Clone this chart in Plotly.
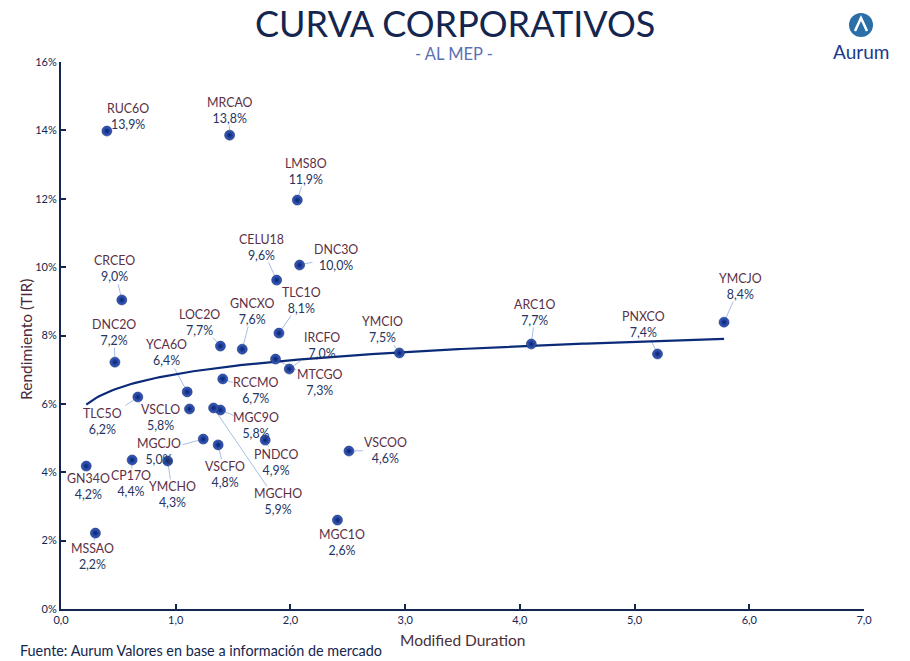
import numpy as np
import plotly.graph_objects as go

# ---- data ----
tickers = ["RUC6O", "MRCAO", "LMS8O", "CELU18", "DNC3O", "CRCEO", "TLC1O", "LOC2O",
           "GNCXO", "DNC2O", "YCA6O", "IRCFO", "MTCGO", "YMCIO", "ARC1O", "PNXCO",
           "YMCJO", "RCCMO", "TLC5O", "VSCLO", "MGC9O", "MGCJO", "VSCFO", "PNDCO",
           "VSCOO", "MGCHO", "GN34O", "CP17O", "YMCHO", "MGC1O", "MSSAO"]
duration = [0.40, 1.47, 2.06, 1.88, 2.08, 0.53, 1.90, 1.39,
            1.58, 0.47, 1.10, 1.99, 1.87, 2.95, 4.10, 5.20,
            5.78, 1.41, 0.67, 1.12, 1.39, 1.24, 1.37, 1.78,
            2.51, 1.33, 0.22, 0.62, 0.93, 2.41, 0.30]
tir = [13.98, 13.86, 11.96, 9.62, 10.06, 9.04, 8.07, 7.69,
       7.60, 7.22, 6.35, 7.02, 7.31, 7.49, 7.75, 7.46,
       8.39, 6.73, 6.20, 5.85, 5.82, 4.97, 4.80, 4.94,
       4.62, 5.88, 4.18, 4.36, 4.33, 2.60, 2.22]
tir_labels = ["13,9%", "13,8%", "11,9%", "9,6%", "10,0%", "9,0%", "8,1%", "7,7%",
              "7,6%", "7,2%", "6,4%", "7,0%", "7,3%", "7,5%", "7,7%", "7,4%",
              "8,4%", "6,7%", "6,2%", "5,8%", "5,8%", "5,0%", "4,8%", "4,9%",
              "4,6%", "5,9%", "4,2%", "4,4%", "4,3%", "2,6%", "2,2%"]
y_ticks = [0, 2, 4, 6, 8, 10, 12, 14, 16]
y_ticktext = ["0%", "2%", "4%", "6%", "8%", "10%", "12%", "14%", "16%"]
x_ticks = [0, 1, 2, 3, 4, 5, 6, 7]
x_ticktext = ["0,0", "1,0", "2,0", "3,0", "4,0", "5,0", "6,0", "7,0"]

# label offsets (pixels, label centre relative to point; +y is down)
offsets = {
    "RUC6O": (21, -15), "MRCAO": (0, -25), "LMS8O": (9, -29), "CELU18": (-15, -33),
    "DNC3O": (36, -8), "CRCEO": (-7, -31), "TLC1O": (23, -33), "LOC2O": (-21, -24),
    "GNCXO": (10, -38), "DNC2O": (-1, -30), "YCA6O": (-21, -39), "IRCFO": (33, -24),
    "MTCGO": (44, 23), "YMCIO": (-17, -23), "ARC1O": (4, -32), "PNXCO": (-14, -29),
    "YMCJO": (16, -36), "RCCMO": (33, 12), "TLC5O": (-35, 24), "VSCLO": (-29, 8),
    "MGC9O": (36, 15), "MGCJO": (-44, 12), "VSCFO": (7, 30), "PNDCO": (11, 22),
    "VSCOO": (37, -1), "MGCHO": (64, 94), "GN34O": (2, 20), "CP17O": (-1, 24),
    "YMCHO": (5, 34), "MGC1O": (5, 22), "MSSAO": (-3, 23),
}

NAVY = "#14264f"
NAME_COL = "#5b2f45"
VAL_COL = "#243463"
FONT = "Lato, Open Sans, sans-serif"
LBL_SIZE = 12.4

W, H = 910, 661
L, R, T, B = 61, 46, 62, 52
pw, ph = W - L - R, H - T - B


def px(x):
    return (x - L) / pw


def py(y):
    return 1 - (y - T) / ph


fig = go.Figure()

# logarithmic trendline fitted to the data
xd = np.array(duration)
yd = np.array(tir)
b, a = np.polyfit(np.log(xd), yd, 1)
xt = np.linspace(xd.min(), xd.max(), 200)
fig.add_trace(go.Scatter(x=xt, y=a + b * np.log(xt), mode="lines",
                         line=dict(color="#0b2a78", width=2.2), hoverinfo="skip",
                         showlegend=False))

# leader lines (pixel-sized shapes anchored at each point)
for t, x, y, lab in zip(tickers, duration, tir, tir_labels):
    ox, oy = offsets[t]
    hw = max(len(t), len(lab)) * LBL_SIZE * 0.34 + 2
    hh = LBL_SIZE * 1.25
    tx = hw / abs(ox) if ox else np.inf
    ty = hh / abs(oy) if oy else np.inf
    tb = min(tx, ty)
    if tb >= 1:
        continue
    ex, ey = ox * (1 - tb), oy * (1 - tb)
    dist = np.hypot(ex, ey)
    if dist < 7:
        continue
    sx, sy = ex / dist * 5, ey / dist * 5
    fig.add_shape(type="line", xref="x", yref="y", xsizemode="pixel", ysizemode="pixel",
                  xanchor=x, yanchor=y, x0=sx, y0=-sy, x1=ex, y1=-ey,
                  line=dict(color="#a9bde6", width=1), layer="below")

fig.add_trace(go.Scatter(
    x=duration, y=tir, mode="markers", showlegend=False,
    marker=dict(size=10, color="#3a63c8",
                gradient=dict(type="radial", color="#0a1f6e"),
                line=dict(width=0.5, color="#0a1a55")),
    text=tickers))

for t, x, y, lab in zip(tickers, duration, tir, tir_labels):
    ox, oy = offsets[t]
    fig.add_annotation(
        x=x, y=y, xref="x", yref="y", xshift=ox, yshift=-oy,
        text=f"<span style='color:{NAME_COL}'>{t}</span><br><span style='color:{VAL_COL}'>{lab}</span>",
        showarrow=False, xanchor="center", yanchor="middle", align="center",
        font=dict(family=FONT, size=LBL_SIZE), borderpad=0)

layout_texts = [
    dict(text="CURVA CORPORATIVOS", x=455, y=23, size=36, color=NAVY, anchor="center"),
    dict(text="- AL MEP -", x=454, y=54, size=16.5, color="#5b6fb5", anchor="center"),
    dict(text="Modified Duration", x=462, y=640, size=15.5, color="#4a3038", anchor="center"),
    dict(text="Fuente: Aurum Valores en base a información de mercado", x=18, y=650,
         size=14.4, color=NAVY, anchor="left"),
    dict(text="Aurum", x=861, y=51, size=19, color="#1a3a8c", anchor="center"),
]
for d in layout_texts:
    fig.add_annotation(
        x=px(d["x"]), y=py(d["y"]), xref="paper", yref="paper",
        xanchor=d["anchor"], yanchor="middle", showarrow=False, text=d["text"],
        font=dict(family=FONT, size=d["size"], color=d["color"]))

fig.add_annotation(x=px(15), y=py(340), xref="paper", yref="paper", textangle=-90,
                   showarrow=False, text="Rendimiento (TIR)",
                   font=dict(family=FONT, size=15.5, color="#4a2a3a"))

# logo circle with white chevron
fig.add_shape(type="circle", xref="paper", yref="paper",
              x0=px(849), x1=px(873), y0=py(37), y1=py(13),
              fillcolor="#2a6fa8", line=dict(width=0))
fig.add_shape(type="path", xref="paper", yref="paper",
              path=f"M {px(855)} {py(31)} L {px(861)} {py(18)} L {px(867)} {py(31)}",
              line=dict(color="white", width=2.5))

fig.update_layout(
    width=W, height=H, margin=dict(l=L, r=R, t=T, b=B),
    plot_bgcolor="white", paper_bgcolor="white",
    font=dict(family=FONT, color=NAVY),
    xaxis=dict(range=[0, 7], tickvals=x_ticks, ticktext=x_ticktext, showgrid=False,
               zeroline=False, showline=True, linecolor=NAVY, linewidth=2,
               ticks="inside", ticklen=5, tickcolor=NAVY, tickwidth=1.5,
               tickfont=dict(size=11, color=NAVY)),
    yaxis=dict(range=[0, 16], tickvals=y_ticks, ticktext=y_ticktext, showgrid=False,
               zeroline=False, showline=True, linecolor=NAVY, linewidth=2,
               ticks="inside", ticklen=5, tickcolor=NAVY, tickwidth=1.5,
               tickfont=dict(size=11, color=NAVY)),
)

fig.write_html("out.html")
